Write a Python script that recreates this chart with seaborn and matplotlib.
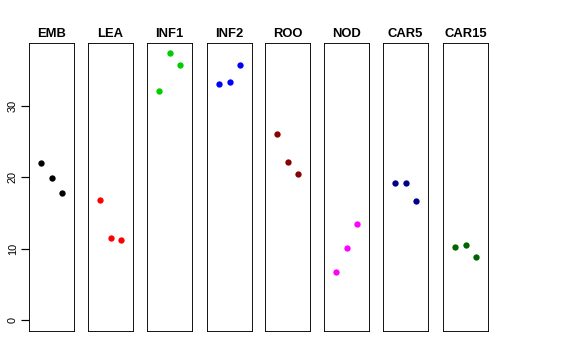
import numpy as np
import pandas as pd
import matplotlib
matplotlib.use("Agg")
import matplotlib.pyplot as plt
import seaborn as sns

# tissue panels, three replicate values each
tissues = ["EMB", "LEA", "INF1", "INF2", "ROO", "NOD", "CAR5", "CAR15"]
emb = [22.0, 19.95, 17.8]
lea = [16.9, 11.45, 11.25]
inf1 = [32.05, 37.4, 35.8]
inf2 = [33.1, 33.45, 35.75]
roo = [26.1, 22.1, 20.45]
nod = [6.7, 10.15, 13.4]
car5 = [19.25, 19.25, 16.65]
car15 = [10.2, 10.55, 8.9]
colors = ["black", "red", "#00CD00", "blue", "#8B0000", "magenta", "#00008B", "#006400"]
yticks = [0, 10, 20, 30]

values = [emb, lea, inf1, inf2, roo, nod, car5, car15]
df = pd.DataFrame({
    "tissue": np.repeat(tissues, 3),
    "rep": np.tile([1, 2, 3], len(tissues)),
    "value": np.concatenate(values),
})

sns.set_style("white")
plt.rcParams["font.family"] = ["Liberation Sans", "DejaVu Sans"]
plt.rcParams.update({"text.color": "black", "axes.labelcolor": "black",
                     "xtick.color": "black", "ytick.color": "black",
                     "axes.edgecolor": "black"})

W, H = 576, 360
fig = plt.figure(figsize=(W / 72, H / 72), dpi=72)

lefts = [29, 88, 147, 207, 265, 324, 383, 443]
pw = 45
top, bottom = 43, 331
ylim = (-1.54, 38.85)

for i, (t, c) in enumerate(zip(tissues, colors)):
    ax = fig.add_axes([lefts[i] / W, (H - bottom) / H, pw / W, (bottom - top) / H])
    sub = df[df["tissue"] == t]
    sns.scatterplot(data=sub, x="rep", y="value", color=c, s=40,
                    linewidth=0, ax=ax, legend=False)
    ax.set_xlim(-0.18, 4.18)
    ax.set_ylim(*ylim)
    ax.set_xticks([])
    ax.set_xlabel("")
    ax.set_ylabel("")
    ax.set_title(t, fontsize=13, fontweight="bold", pad=6, color="black")
    for sp in ax.spines.values():
        sp.set_visible(True)
        sp.set_color("black")
        sp.set_linewidth(0.9)
    if i == 0:
        ax.set_yticks(yticks)
        ax.set_yticklabels([str(v) for v in yticks], rotation=90, va="center",
                           fontsize=11, color="black")
        ax.tick_params(axis="y", left=True, right=False, direction="out",
                       length=8, width=1.2, color="black", pad=3)
    else:
        ax.set_yticks([])

fig.savefig("out.png", dpi=72, facecolor="white")
